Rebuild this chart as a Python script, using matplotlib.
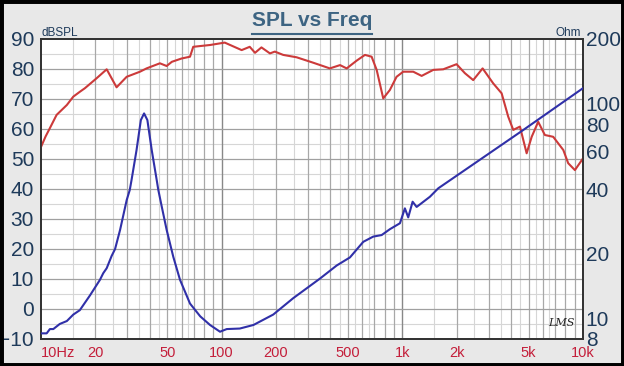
import matplotlib
matplotlib.use("Agg")
import matplotlib.pyplot as plt
from matplotlib.patches import Rectangle
from matplotlib.lines import Line2D
from matplotlib.ticker import FixedLocator, NullLocator, FixedFormatter

# ---- data ----
spl_freq = [10.0, 10.6, 11.2, 12.2, 13.9, 15.1, 16.4, 17.5, 20.3, 23.1, 26.2, 29.8,
            35.3, 38.4, 45.5, 49.6, 53.0, 60.0, 66.8, 69.6, 86.2, 104, 129, 143,
            153, 166, 185, 197, 219, 260, 321, 397, 452, 492, 559, 621, 676, 721,
            784, 853, 929, 1011, 1149, 1279, 1483, 1684, 1996, 2220, 2468, 2782,
            3185, 3545, 3856, 4111, 4477, 4876, 5200, 5650, 6150, 6840, 7780, 8280,
            9020, 10000]
spl_db = [54.0, 57.5, 60.3, 64.7, 68.0, 70.8, 72.4, 73.6, 76.9, 79.9, 73.9, 77.4,
          79.1, 80.2, 81.9, 81.0, 82.4, 83.5, 84.1, 87.4, 88.0, 88.8, 86.3, 87.4,
          85.4, 87.2, 85.2, 85.8, 84.7, 83.9, 82.1, 80.2, 81.3, 80.2, 82.8, 84.7,
          84.1, 79.7, 70.2, 73.0, 77.4, 79.1, 79.1, 77.7, 79.7, 79.9, 81.6, 78.6,
          76.3, 80.2, 75.2, 71.9, 64.1, 59.7, 60.8, 51.9, 57.4, 62.4, 58.0, 57.4,
          53.0, 48.6, 46.3, 50.2]

imp_freq = [10.0, 10.75, 11.2, 11.7, 12.7, 13.9, 15.1, 16.4, 18.7, 21.2, 22.1, 23.1,
            24.6, 25.7, 27.4, 29.8, 31.0, 31.7, 33.8, 35.7, 37.2, 38.8, 41.0, 43.7,
            44.6, 46.6, 49.6, 54.0, 58.8, 66.8, 76.1, 86.2, 97.9, 106.7, 126, 150,
            193, 249, 350, 433, 513, 608, 690, 768, 854, 970, 1033, 1078, 1140,
            1200, 1421, 1581, 4667, 10000]
imp_ohm = [8.5, 8.5, 8.9, 8.9, 9.4, 9.7, 10.4, 10.9, 12.8, 15.1, 16.2, 17.1,
           19.5, 21.0, 25.8, 35.5, 39.6, 44.0, 60.8, 83.8, 90.0, 83.8, 60.8, 44.0,
           39.6, 33.1, 25.8, 19.3, 15.1, 11.7, 10.2, 9.3, 8.65, 8.9, 8.95, 9.3,
           10.4, 12.4, 15.3, 17.6, 19.2, 22.7, 24.0, 24.4, 26.0, 27.7, 32.5, 29.5,
           34.9, 33.0, 36.8, 40.3, 75.3, 118.0]

x_ticks = [10, 20, 50, 100, 200, 500, 1000, 2000, 5000, 10000]
x_labels = ["10Hz", "20", "50", "100", "200", "500", "1k", "2k", "5k", "10k"]
db_ticks = [-10, 0, 10, 20, 30, 40, 50, 60, 70, 80, 90]
ohm_ticks = [8, 10, 20, 40, 60, 80, 100, 200]
ohm_labels = ["8", "10", "20", "40", "60", "80", "100", "200"]

# ---- styling ----
plt.rcParams['font.family'] = ['Liberation Sans', 'DejaVu Sans']
navy = '#1e3a5a'
tick_red = '#c41e3a'

fig = plt.figure(figsize=(6.24, 3.66), dpi=100, facecolor='#e8e8e8')
ax = fig.add_axes([41/624, 1-339/366, 542/624, 300/366])
ax.set_facecolor('white')
ax.set_xscale('log')
ax.set_xlim(10, 10000)
ax.set_ylim(-10, 90)

# grid
for dec in [10, 100, 1000]:
    for m in range(2, 10):
        ax.axvline(dec*m, color='#a8a8a8', lw=0.9, zorder=1)
    for m in [1.5, 2.5, 3.5, 4.5, 5.5, 6.5]:
        ax.axvline(dec*m, color='#d6d6d6', lw=0.8, zorder=0.9)
for dec in [100, 1000]:
    ax.axvline(dec, color='#888888', lw=1.0, zorder=1)
for v in range(-5, 90, 10):
    ax.axhline(v, color='#d6d6d6', lw=0.8, zorder=0.9)
for v in range(0, 90, 10):
    ax.axhline(v, color='#a0a0a0', lw=0.9, zorder=1)

ax.plot(spl_freq, spl_db, color='#cc3a3a', lw=1.5, zorder=3)

ax.xaxis.set_major_locator(FixedLocator(x_ticks))
ax.xaxis.set_minor_locator(NullLocator())
ax.xaxis.set_major_formatter(FixedFormatter(x_labels))
ax.set_yticks(db_ticks)
ax.tick_params(axis='x', length=0, pad=5, labelsize=10.5, labelcolor=tick_red)
ax.tick_params(axis='y', length=0, pad=5, labelsize=15, labelcolor=navy)
xl = ax.get_xticklabels()
xl[0].set_horizontalalignment('left')
for s in ax.spines.values():
    s.set_color('#333333')
    s.set_linewidth(1.3)

ax2 = ax.twinx()
ax2.set_yscale('log')
ax2.set_ylim(8, 200)
ax2.plot(imp_freq, imp_ohm, color='#3030a8', lw=1.5, zorder=3)
ax2.yaxis.set_major_locator(FixedLocator(ohm_ticks))
ax2.yaxis.set_minor_locator(NullLocator())
ax2.yaxis.set_major_formatter(FixedFormatter(ohm_labels))
ax2.tick_params(axis='y', length=0, pad=2, labelsize=15, labelcolor=navy)
for s in ax2.spines.values():
    s.set_color('#333333')
    s.set_linewidth(1.3)

# texts
fig.text(312/624, 1-20/366, "SPL vs Freq", ha='center', va='center',
         fontsize=15, fontweight='bold', color='#3d6482')
fig.add_artist(Line2D([252/624, 372/624], [1-34/366, 1-34/366],
                      transform=fig.transFigure, color='#3d6482', lw=1.5))
fig.text(42/624, 1-36/366, "dBSPL", ha='left', va='baseline', fontsize=8.5, color=navy)
fig.text(581/624, 1-36/366, "Ohm", ha='right', va='baseline', fontsize=8.5, color=navy)
ax.text(0.985, 0.035, "LMS", transform=ax.transAxes, ha='right', va='bottom',
        fontsize=8, fontstyle='italic', family='DejaVu Serif', color='#222222', zorder=5)

fig.patches.append(Rectangle((0, 0), 1, 1, transform=fig.transFigure, fill=False,
                             edgecolor='black', linewidth=5))

fig.savefig("out.png", dpi=100, facecolor=fig.get_facecolor())
